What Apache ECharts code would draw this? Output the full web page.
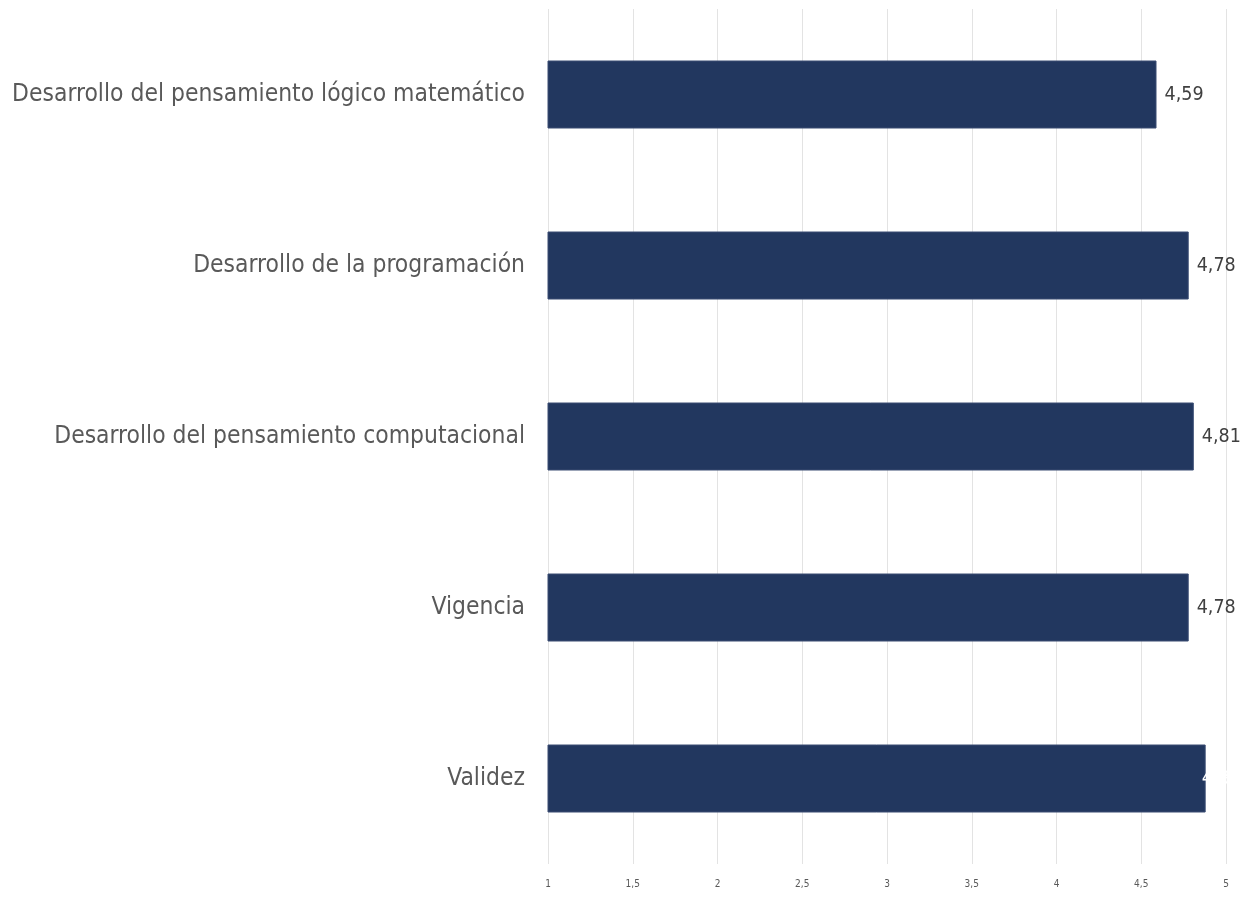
<!DOCTYPE html>
<html>
<head>
<meta charset="utf-8">
<script src="https://cdn.jsdelivr.net/npm/echarts@6/dist/echarts.min.js"></script>
<style>
html,body{margin:0;padding:0;background:#fff;}
#chart{width:1245px;height:899px;}
</style>
</head>
<body>
<div id="chart"></div>
<script>
const categories = [
  "Desarrollo del pensamiento lógico matemático",
  "Desarrollo de la programación",
  "Desarrollo del pensamiento computacional",
  "Vigencia",
  "Validez"
];
const values = [4.59, 4.78, 4.81, 4.78, 4.88];
const tickLabels = ["1", "1,5", "2", "2,5", "3", "3,5", "4", "4,5", "5"];

const FONT = '"Liberation Sans Narrow", "DejaVu Sans Condensed", "Open Sans", sans-serif';
const chart = echarts.init(document.getElementById('chart'));
chart.setOption({
  animation: false,
  grid: {left: 548, right: 19, top: 9, height: 855, containLabel: false, outerBoundsMode: 'none'},
  xAxis: {
    type: 'value', min: 1, max: 5, interval: 0.5,
    axisLine: {show: false}, axisTick: {show: false},
    splitLine: {show: true, lineStyle: {color: '#e3e3e3', width: 1}},
    axisLabel: {
      margin: 15, color: '#595959', fontFamily: FONT, fontSize: 10,
      formatter: function (v) { return tickLabels[Math.round((v - 1) / 0.5)]; }
    }
  },
  yAxis: {
    type: 'category', data: categories, inverse: true,
    axisLine: {show: false}, axisTick: {show: false},
    axisLabel: {margin: 23, color: '#595959', fontFamily: FONT, fontSize: 24.4}
  },
  series: [{
    type: 'bar', barWidth: 68,
    data: values.map(function (v, i) {
      const last = i === values.length - 1;
      return {
        value: v,
        label: last ? {color: '#ffffff', offset: [-12, 0]} : {}
      };
    }),
    itemStyle: {color: '#22375f', borderColor: '#3a4d73', borderWidth: 1},
    label: {
      show: true, position: 'right', distance: 8,
      color: '#404040', fontFamily: FONT, fontSize: 19.5,
      formatter: function (p) { return p.value.toFixed(2).replace('.', ','); }
    }
  }]
});
</script>
</body>
</html>
